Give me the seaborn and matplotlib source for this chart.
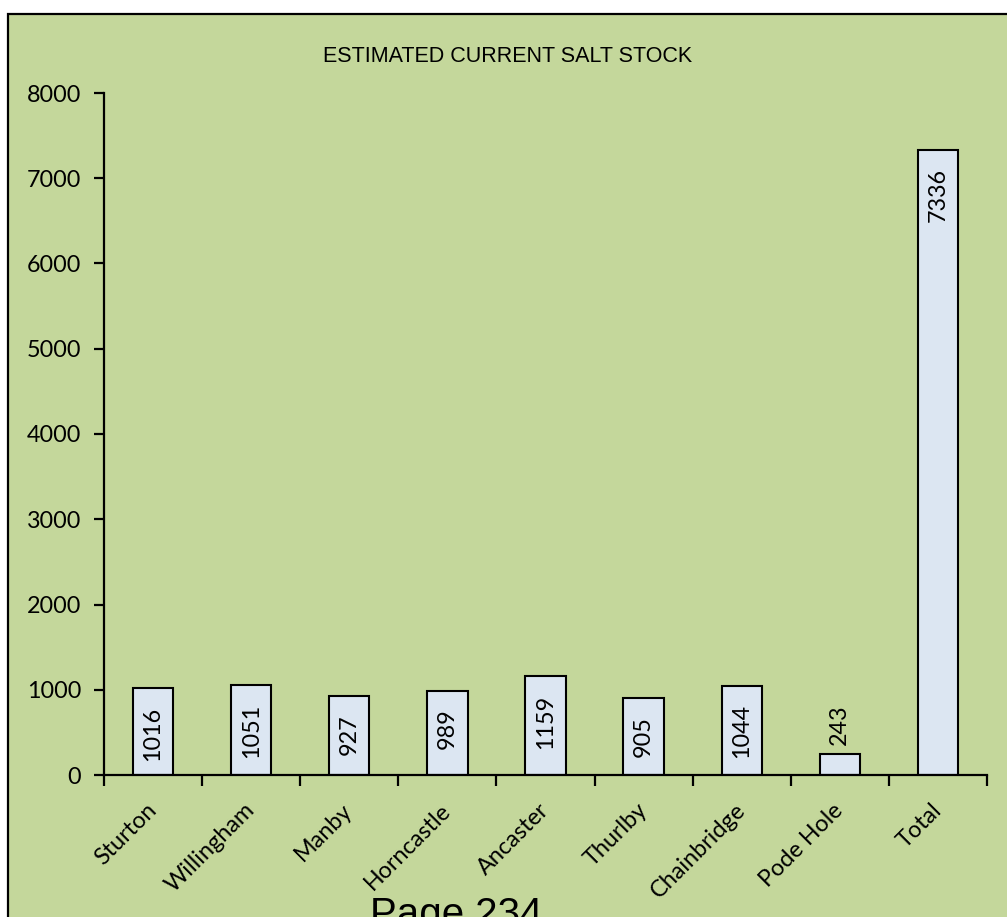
import matplotlib
matplotlib.use("Agg")
import matplotlib.pyplot as plt
from matplotlib.patches import Rectangle
import seaborn as sns
import pandas as pd

# Salt stock per depot
depots = ["Sturton", "Willingham", "Manby", "Horncastle", "Ancaster",
          "Thurlby", "Chainbridge", "Pode Hole", "Total"]
stock = [1016, 1051, 927, 989, 1159, 905, 1044, 243, 7336]
y_ticks = [0, 1000, 2000, 3000, 4000, 5000, 6000, 7000, 8000]
title = "ESTIMATED CURRENT SALT STOCK"
footer = "Page 234"

green = "#C4D79B"
bar_fill = "#DCE6F2"
fs = 16.8

sns.set_theme(style="white")
plt.rcParams["font.family"] = ["Lato", "DejaVu Sans"]
plt.rcParams["text.color"] = "black"
plt.rcParams["xtick.color"] = "black"
plt.rcParams["ytick.color"] = "black"

W, H = 1007, 917
fig = plt.figure(figsize=(W / 100, H / 100), dpi=100)
fig.patch.set_facecolor("white")

# chart area frame
fig.patches.append(Rectangle((8 / W, -0.05), 1.1, 1 - 14 / H + 0.05,
                             transform=fig.transFigure, facecolor=green,
                             edgecolor="black", linewidth=1.6, zorder=-5))

ax = fig.add_axes([104 / W, 1 - 775 / H, (987 - 104) / W, (775 - 93) / H])
ax.set_facecolor("none")
ax.set_zorder(2)

df = pd.DataFrame({"depot": depots, "stock": stock})
sns.barplot(data=df, x="depot", y="stock", ax=ax, color=bar_fill,
            saturation=1, width=0.41, edgecolor="black", linewidth=1.5)

ax.set_xlim(-0.5, len(depots) - 0.5)
ax.set_ylim(0, 8000)
ax.set_yticks(y_ticks)
ax.set_yticklabels([str(v) for v in y_ticks], fontsize=fs)
ax.set_xlabel("")
ax.set_ylabel("")

for s in ["top", "right"]:
    ax.spines[s].set_visible(False)
for s in ["left", "bottom"]:
    ax.spines[s].set_color("black")
    ax.spines[s].set_linewidth(1.6)

ax.tick_params(axis="y", which="major", direction="out", length=7,
               width=1.6, color="black", pad=9.5, left=True)

# category boundary ticks on the x axis
ax.set_xticks([i - 0.5 for i in range(len(depots) + 1)], minor=True)
ax.tick_params(axis="x", which="minor", direction="out", length=8,
               width=1.6, color="black", bottom=True)
ax.set_xticks(range(len(depots)))
ax.set_xticklabels(depots, rotation=45, ha="right", va="center",
                   rotation_mode="anchor", fontsize=fs)
ax.tick_params(axis="x", which="major", length=0, pad=23)

# value labels, rotated inside the bar top (outside for short bars)
for i, v in enumerate(stock):
    if v > 600:
        ax.annotate(str(v), (i, v), xytext=(0, -13), textcoords="offset points",
                    rotation=90, ha="center", va="top", fontsize=fs)
    else:
        ax.annotate(str(v), (i, v), xytext=(0, 7), textcoords="offset points",
                    rotation=90, ha="center", va="bottom", fontsize=fs)

fig.text(508 / W, 1 - 57 / H, title, ha="center", va="center",
         fontsize=15.5, family="Liberation Sans")
fig.text(370 / W, 1 - 926 / H, footer, ha="left", va="baseline",
         fontsize=29, family="Liberation Sans")

fig.savefig("out.png", dpi=100)
